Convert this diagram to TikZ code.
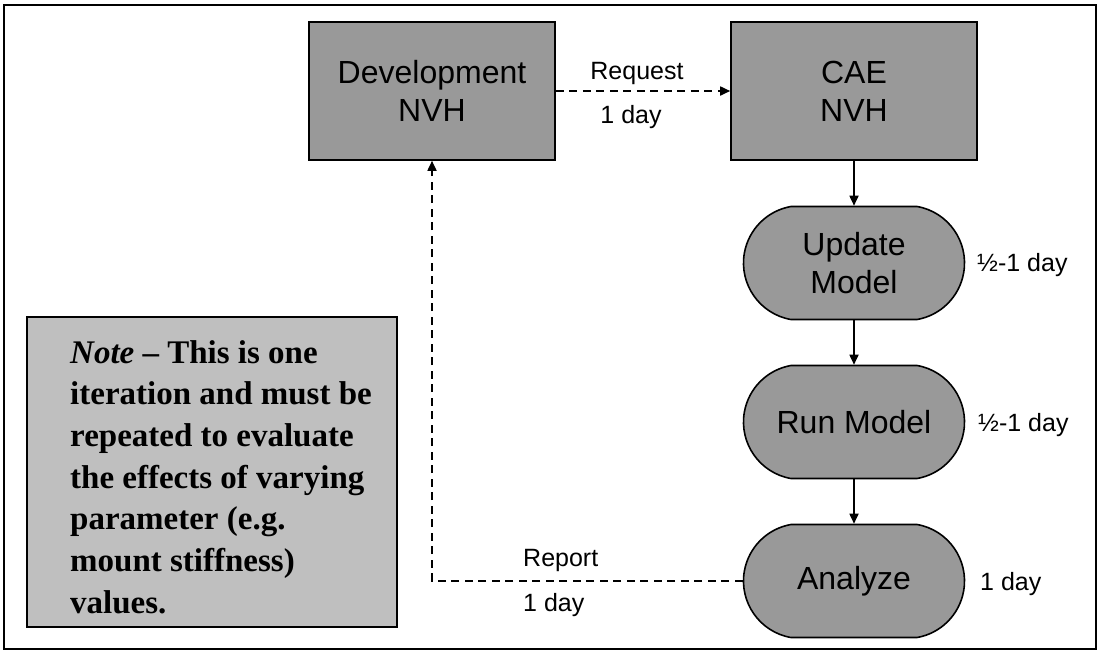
\documentclass[tikz,border=0pt]{standalone}
\usepackage{fontspec}
\setmainfont{Liberation Sans}
\newfontfamily\notefont{Liberation Serif}
\usetikzlibrary{shapes.misc,arrows.meta}
\definecolor{boxgray}{gray}{0.60}
\definecolor{notegray}{gray}{0.75}
\begin{document}
\begin{tikzpicture}[x=1pt,y=-1pt,
  box/.style={draw,line width=1.6pt,fill=boxgray,minimum width=246pt,minimum height=138pt,
    inner sep=0pt,align=center,font=\fontsize{32}{38}\selectfont},
  pill/.style={rounded rectangle,rounded rectangle arc length=160,draw,line width=1.6pt,
    fill=boxgray,minimum width=221pt,minimum height=113pt,inner sep=0pt,align=center,
    font=\fontsize{32}{38}\selectfont},
  notebox/.style={draw,line width=1.6pt,fill=notegray,minimum width=370pt,minimum height=310pt,inner sep=0pt},
  notetext/.style={inner sep=0pt,align=left,font=\notefont\bfseries\fontsize{33}{41.7}\selectfont},
  lbl/.style={font=\fontsize{25}{30}\selectfont,inner sep=0pt},
  flow/.style={-{Triangle[length=10pt,width=9pt]},line width=1.7pt},
  dflow/.style={flow,dash pattern=on 8pt off 5.5pt}
]
\useasboundingbox (0,0) rectangle (1101,657);
\draw[line width=1.2pt] (4,5) rectangle (1096,649);

\node[box] (dev) at (432,91) {Development\\NVH};
\node[box] (cae) at (854,91) {CAE\\NVH};
\node[pill] (upd) at (854,263) {Update\\Model};
\node[pill] (run) at (854,422) {Run Model};
\node[pill] (ana) at (854,581) {Analyze};

\node[notebox] (note) at (212,472) {};
\node[notetext,anchor=north west] (notetxt) at (70,340)
  {\textit{Note} – This is one\\iteration and must be\\repeated to evaluate\\the effects of varying\\parameter (e.g.\\mount stiffness)\\values.};

\node[lbl] (req) at (637,73) {Request};
\node[lbl] (reqday) at (631,117) {1 day};
\node[lbl,anchor=west] (updday) at (977,265) {½-1 day};
\node[lbl,anchor=west] (runday) at (978,425) {½-1 day};
\node[lbl,anchor=west] (anaday) at (980,584) {1 day};
\node[lbl,anchor=west] (rep) at (523,560) {Report};
\node[lbl,anchor=west] (repday) at (523,605) {1 day};

\draw[dflow] (dev.east) -- (cae.west);
\draw[flow] (cae.south) -- (upd.north);
\draw[flow] (upd.south) -- (run.north);
\draw[flow] (run.south) -- (ana.north);
\draw[dflow] (ana.west) -| (dev.south);
\end{tikzpicture}
\end{document}
